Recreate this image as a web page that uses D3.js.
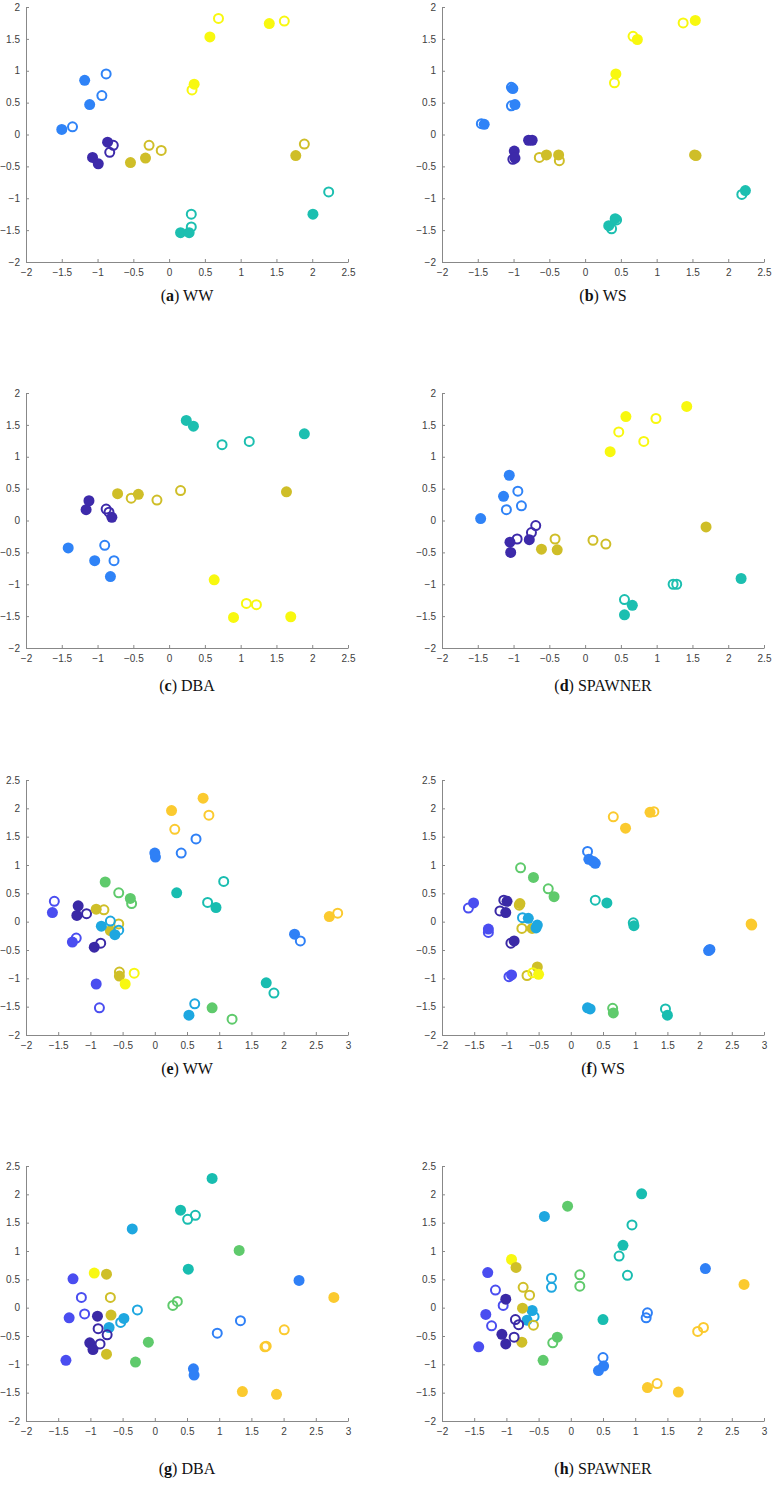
<!DOCTYPE html>
<html>
<head>
<meta charset="utf-8">
<script src="https://cdn.jsdelivr.net/npm/d3@7"></script>
<style>
  body { margin: 0; background: #fff; }
  svg { display: block; }
  .tick text { font-family: "Liberation Sans", Arial, sans-serif; font-size: 10px; fill: #404040; }
  .caption { font-family: "Liberation Serif", "DejaVu Serif", serif; font-size: 16px; fill: #111; }
</style>
</head>
<body>
<div id="chart"></div>
<script>
// class colours
const colors5 = ["#3d2aaa", "#2f83f7", "#1cbfb0", "#cfbe28", "#f8f80f"];
const colors9 = ["#3a29a6", "#4a4df0", "#2f80f6", "#1ea7e0", "#18bdb0", "#5fca6c", "#cfbf28", "#f8f811", "#fbca2f"];

// rows: [x, y, class, filled]
const panelA = [
  [0.69, 1.82, 4, 0], [0.57, 1.53, 4, 1], [1.40, 1.74, 4, 1], [1.61, 1.78, 4, 0], [0.32, 0.70, 4, 0], [0.35, 0.79, 4, 1],
  [-0.88, 0.95, 1, 0], [-1.18, 0.85, 1, 1], [-0.94, 0.61, 1, 0], [-1.11, 0.47, 1, 1], [-1.50, 0.08, 1, 1], [-1.35, 0.12, 1, 0],
  [-0.78, -0.17, 0, 0], [-0.86, -0.12, 0, 1], [-0.83, -0.28, 0, 0], [-1.07, -0.36, 0, 1], [-0.99, -0.46, 0, 1],
  [-0.54, -0.44, 3, 1], [-0.33, -0.37, 3, 1], [-0.28, -0.17, 3, 0], [-0.11, -0.25, 3, 0], [1.77, -0.33, 3, 1], [1.89, -0.15, 3, 0],
  [2.23, -0.90, 2, 0], [2.01, -1.25, 2, 1], [0.31, -1.25, 2, 0], [0.31, -1.45, 2, 0], [0.16, -1.54, 2, 1], [0.28, -1.54, 2, 1]
];
const panelB = [
  [1.37, 1.75, 4, 0], [1.54, 1.79, 4, 1], [0.67, 1.54, 4, 0], [0.73, 1.49, 4, 1], [0.43, 0.95, 4, 1], [0.41, 0.81, 4, 0],
  [-1.03, 0.74, 1, 0], [-1.01, 0.72, 1, 1], [-1.03, 0.45, 1, 0], [-0.98, 0.47, 1, 1], [-1.45, 0.17, 1, 0], [-1.41, 0.16, 1, 1],
  [-0.79, -0.09, 0, 1], [-0.74, -0.09, 0, 1], [-0.99, -0.26, 0, 1], [-1.01, -0.39, 0, 0], [-0.98, -0.37, 0, 1],
  [-0.64, -0.36, 3, 0], [-0.54, -0.32, 3, 1], [-0.36, -0.41, 3, 0], [-0.37, -0.32, 3, 1], [1.53, -0.32, 3, 1], [1.55, -0.33, 3, 1],
  [2.19, -0.94, 2, 0], [2.24, -0.88, 2, 1], [0.37, -1.48, 2, 0], [0.33, -1.43, 2, 1], [0.44, -1.34, 2, 0], [0.42, -1.32, 2, 1]
];
const panelC = [
  [0.24, 1.57, 2, 1], [0.34, 1.48, 2, 1], [1.89, 1.36, 2, 1], [0.74, 1.19, 2, 0], [1.12, 1.24, 2, 0],
  [-0.72, 0.42, 3, 1], [-0.53, 0.35, 3, 0], [-0.43, 0.41, 3, 1], [-0.17, 0.32, 3, 0], [0.16, 0.47, 3, 0], [1.64, 0.45, 3, 1],
  [-1.12, 0.31, 0, 1], [-1.16, 0.17, 0, 1], [-0.88, 0.18, 0, 0], [-0.84, 0.13, 0, 0], [-0.80, 0.05, 0, 1],
  [-1.41, -0.43, 1, 1], [-0.90, -0.39, 1, 0], [-1.04, -0.63, 1, 1], [-0.77, -0.63, 1, 0], [-0.82, -0.88, 1, 1],
  [0.63, -0.93, 4, 1], [1.08, -1.30, 4, 0], [1.22, -1.32, 4, 0], [0.90, -1.52, 4, 1], [1.70, -1.51, 4, 1]
];
const panelD = [
  [1.42, 1.79, 4, 1], [0.57, 1.63, 4, 1], [0.99, 1.60, 4, 0], [0.47, 1.39, 4, 0], [0.82, 1.24, 4, 0], [0.35, 1.08, 4, 1],
  [-1.06, 0.71, 1, 1], [-0.94, 0.46, 1, 0], [-1.14, 0.38, 1, 1], [-0.89, 0.23, 1, 0], [-1.10, 0.17, 1, 0], [-1.46, 0.03, 1, 1],
  [-0.69, -0.08, 0, 0], [-0.75, -0.19, 0, 0], [-0.95, -0.29, 0, 0], [-0.78, -0.30, 0, 1], [-1.05, -0.34, 0, 1], [-1.04, -0.50, 0, 1],
  [-0.42, -0.29, 3, 0], [-0.61, -0.45, 3, 1], [-0.39, -0.46, 3, 1], [0.11, -0.31, 3, 0], [0.29, -0.37, 3, 0], [1.69, -0.10, 3, 1],
  [2.18, -0.91, 2, 1], [1.23, -1.00, 2, 0], [1.28, -1.00, 2, 0], [0.55, -1.24, 2, 0], [0.66, -1.33, 2, 1], [0.55, -1.48, 2, 1]
];
const panelE = [
  [0.75, 2.18, 8, 1], [0.26, 1.96, 8, 1], [0.84, 1.88, 8, 0], [0.31, 1.63, 8, 0], [2.71, 0.09, 8, 1], [2.84, 0.15, 8, 0],
  [0.64, 1.46, 2, 0], [0.41, 1.21, 2, 0], [0.00, 1.21, 2, 1], [0.01, 1.14, 2, 1], [2.17, -0.22, 2, 1], [2.26, -0.34, 2, 0],
  [1.07, 0.71, 4, 0], [0.34, 0.51, 4, 1], [0.82, 0.34, 4, 0], [0.95, 0.25, 4, 1], [1.73, -1.08, 4, 1], [1.85, -1.26, 4, 0],
  [-0.77, 0.70, 5, 1], [-0.56, 0.51, 5, 0], [-0.36, 0.32, 5, 0], [-0.38, 0.41, 5, 1], [0.89, -1.52, 5, 1], [1.20, -1.72, 5, 0],
  [-1.56, 0.36, 1, 0], [-1.59, 0.16, 1, 1], [-1.22, -0.29, 1, 0], [-1.28, -0.36, 1, 1], [-0.91, -1.10, 1, 1], [-0.86, -1.52, 1, 0],
  [-1.19, 0.28, 0, 1], [-1.21, 0.11, 0, 1], [-1.06, 0.14, 0, 0], [-0.94, -0.45, 0, 1], [-0.84, -0.38, 0, 0],
  [-0.91, 0.22, 6, 1], [-0.79, 0.21, 6, 0], [-0.56, -0.04, 6, 0], [-0.69, -0.16, 6, 1], [-0.55, -0.96, 6, 1], [-0.55, -0.89, 6, 0],
  [-0.69, 0.01, 3, 0], [-0.83, -0.08, 3, 1], [-0.62, -0.23, 3, 1], [-0.56, -0.15, 3, 0], [0.62, -1.45, 3, 0], [0.53, -1.65, 3, 1],
  [-0.32, -0.91, 7, 0], [-0.46, -1.10, 7, 1]
];
const panelF = [
  [0.66, 1.85, 8, 0], [0.85, 1.65, 8, 1], [1.23, 1.93, 8, 1], [1.29, 1.94, 8, 0], [2.80, -0.04, 8, 1], [2.81, -0.06, 8, 1],
  [0.26, 1.24, 2, 0], [0.28, 1.10, 2, 1], [0.35, 1.06, 2, 1], [0.38, 1.03, 2, 1], [2.14, -0.51, 2, 1], [2.16, -0.49, 2, 1],
  [-0.78, 0.95, 5, 0], [-0.58, 0.78, 5, 1], [-0.35, 0.58, 5, 0], [-0.26, 0.44, 5, 1], [0.65, -1.53, 5, 0], [0.66, -1.61, 5, 1],
  [0.38, 0.38, 4, 0], [0.56, 0.33, 4, 1], [0.97, -0.02, 4, 0], [0.98, -0.07, 4, 1], [1.47, -1.54, 4, 0], [1.50, -1.65, 4, 1],
  [-1.59, 0.24, 1, 0], [-1.51, 0.33, 1, 1], [-1.28, -0.19, 1, 0], [-1.28, -0.13, 1, 1], [-0.96, -0.97, 1, 0], [-0.92, -0.94, 1, 1],
  [-1.04, 0.38, 0, 0], [-0.99, 0.36, 0, 1], [-1.10, 0.19, 0, 0], [-1.01, 0.16, 0, 1], [-0.93, -0.38, 0, 0], [-0.88, -0.34, 0, 1],
  [-0.80, 0.29, 6, 0], [-0.79, 0.32, 6, 1], [-0.76, -0.12, 6, 0], [-0.60, -0.12, 6, 1], [-0.68, -0.95, 6, 0], [-0.52, -0.80, 6, 1],
  [-0.75, 0.07, 3, 0], [-0.66, 0.06, 3, 1], [-0.54, -0.11, 3, 1], [-0.52, -0.06, 3, 1], [0.26, -1.52, 3, 1], [0.30, -1.54, 3, 1],
  [-0.59, -0.90, 7, 0], [-0.50, -0.93, 7, 1]
];
const panelG = [
  [0.89, 2.28, 4, 1], [0.40, 1.72, 4, 1], [0.51, 1.56, 4, 0], [0.63, 1.63, 4, 0], [0.52, 0.68, 4, 1],
  [-0.35, 1.39, 3, 1], [-0.27, -0.04, 3, 0], [-0.53, -0.26, 3, 0], [-0.48, -0.19, 3, 1], [-0.71, -0.35, 3, 1],
  [1.31, 1.01, 5, 1], [0.35, 0.11, 5, 0], [0.28, 0.04, 5, 0], [-0.10, -0.61, 5, 1], [-0.30, -0.96, 5, 1],
  [2.24, 0.48, 2, 1], [1.33, -0.23, 2, 0], [0.97, -0.45, 2, 0], [0.60, -1.08, 2, 1], [0.61, -1.19, 2, 1],
  [2.78, 0.18, 8, 1], [2.01, -0.39, 8, 0], [1.71, -0.69, 8, 0], [1.73, -0.68, 8, 0], [1.36, -1.48, 8, 1], [1.89, -1.53, 8, 1],
  [-0.94, 0.61, 7, 1],
  [-0.75, 0.59, 6, 1], [-0.69, 0.18, 6, 0], [-0.68, -0.13, 6, 1], [-0.75, -0.82, 6, 1],
  [-1.27, 0.51, 1, 1], [-1.14, 0.18, 1, 0], [-1.09, -0.11, 1, 0], [-1.33, -0.18, 1, 1], [-1.38, -0.93, 1, 1],
  [-0.89, -0.15, 0, 1], [-0.88, -0.37, 0, 0], [-0.74, -0.48, 0, 0], [-1.01, -0.62, 0, 1], [-0.96, -0.74, 0, 1], [-0.85, -0.64, 0, 0]
];
const panelH = [
  [1.10, 2.01, 4, 1], [0.95, 1.46, 4, 0], [0.81, 1.10, 4, 1], [0.75, 0.91, 4, 0], [0.88, 0.57, 4, 0], [0.50, -0.21, 4, 1],
  [-0.05, 1.79, 5, 1], [0.14, 0.58, 5, 0], [0.14, 0.38, 5, 0], [-0.28, -0.62, 5, 0], [-0.21, -0.52, 5, 1], [-0.43, -0.93, 5, 1],
  [-0.41, 1.61, 3, 1], [-0.30, 0.52, 3, 0], [-0.30, 0.36, 3, 0], [-0.57, -0.16, 3, 0], [-0.60, -0.05, 3, 1], [-0.68, -0.22, 3, 1],
  [2.09, 0.69, 2, 1], [1.19, -0.09, 2, 0], [1.17, -0.18, 2, 0], [0.50, -0.88, 2, 0], [0.51, -1.03, 2, 1], [0.43, -1.11, 2, 1],
  [2.69, 0.41, 8, 1], [2.06, -0.35, 8, 0], [1.97, -0.42, 8, 0], [1.34, -1.34, 8, 0], [1.19, -1.41, 8, 1], [1.67, -1.49, 8, 1],
  [-0.92, 0.85, 7, 1],
  [-0.85, 0.71, 6, 1], [-0.74, 0.36, 6, 0], [-0.64, 0.22, 6, 0], [-0.75, -0.01, 6, 1], [-0.58, -0.31, 6, 0], [-0.76, -0.61, 6, 1],
  [-1.29, 0.62, 1, 1], [-1.17, 0.31, 1, 0], [-1.05, 0.04, 1, 0], [-1.32, -0.12, 1, 1], [-1.23, -0.32, 1, 0], [-1.43, -0.69, 1, 1],
  [-1.01, 0.15, 0, 1], [-0.86, -0.21, 0, 0], [-0.81, -0.30, 0, 0], [-0.88, -0.52, 0, 0], [-1.07, -0.47, 0, 1], [-1.01, -0.64, 0, 1]
];

const xTicksTop = [-2, -1.5, -1, -0.5, 0, 0.5, 1, 1.5, 2, 2.5];
const yTicksTop = [-2, -1.5, -1, -0.5, 0, 0.5, 1, 1.5, 2];
const xTicksBottom = [-2, -1.5, -1, -0.5, 0, 0.5, 1, 1.5, 2, 2.5, 3];
const yTicksBottom = [-2, -1.5, -1, -0.5, 0, 0.5, 1, 1.5, 2, 2.5];

const captionLetters = ["a", "b", "c", "d", "e", "f", "g", "h"];
const captionNames = ["WW", "WS", "DBA", "SPAWNER", "WW", "WS", "DBA", "SPAWNER"];

const width = 772, height = 1499;
const svg = d3.select("#chart").append("svg")
  .attr("width", width)
  .attr("height", height);

const cols = [26, 442];          // left edge of plot area
const plotW = 322, plotH = 255;
const rows = [7, 393, 780, 1166]; // top edge of plot area
const captionY = [297, 687, 1070, 1470];

const panels = [
  { data: panelA, colors: colors5, xd: [-2, 2.5], yd: [-2, 2], xt: xTicksTop, yt: yTicksTop },
  { data: panelB, colors: colors5, xd: [-2, 2.5], yd: [-2, 2], xt: xTicksTop, yt: yTicksTop },
  { data: panelC, colors: colors5, xd: [-2, 2.5], yd: [-2, 2], xt: xTicksTop, yt: yTicksTop },
  { data: panelD, colors: colors5, xd: [-2, 2.5], yd: [-2, 2], xt: xTicksTop, yt: yTicksTop },
  { data: panelE, colors: colors9, xd: [-2, 3], yd: [-2, 2.5], xt: xTicksBottom, yt: yTicksBottom },
  { data: panelF, colors: colors9, xd: [-2, 3], yd: [-2, 2.5], xt: xTicksBottom, yt: yTicksBottom },
  { data: panelG, colors: colors9, xd: [-2, 3], yd: [-2, 2.5], xt: xTicksBottom, yt: yTicksBottom },
  { data: panelH, colors: colors9, xd: [-2, 3], yd: [-2, 2.5], xt: xTicksBottom, yt: yTicksBottom }
];

const fmt = d => d3.format("")(d);

panels.forEach((p, i) => {
  const left = cols[i % 2], top = rows[Math.floor(i / 2)];
  const g = svg.append("g").attr("transform", "translate(" + left + "," + top + ")");

  const x = d3.scaleLinear().domain(p.xd).range([0, plotW]);
  const y = d3.scaleLinear().domain(p.yd).range([plotH, 0]);

  // MATLAB style: ticks pointing inwards, no box
  const xAxis = g.append("g")
    .attr("transform", "translate(0," + plotH + ")")
    .call(d3.axisBottom(x).tickValues(p.xt).tickFormat(fmt).tickSizeInner(-3).tickSizeOuter(0).tickPadding(7));
  const yAxis = g.append("g")
    .call(d3.axisLeft(y).tickValues(p.yt).tickFormat(fmt).tickSizeInner(-3).tickSizeOuter(0).tickPadding(6));
  [xAxis, yAxis].forEach(a => {
    a.select(".domain").attr("stroke", "#888");
    a.selectAll(".tick line").attr("stroke", "#888");
  });

  g.selectAll("circle")
    .data(p.data)
    .enter().append("circle")
    .attr("cx", d => x(d[0]))
    .attr("cy", d => y(d[1]))
    .attr("r", d => d[3] ? 5.5 : 4.5)
    .attr("fill", d => d[3] ? p.colors[d[2]] : "none")
    .attr("stroke", d => d[3] ? "none" : p.colors[d[2]])
    .attr("stroke-width", 2);

  const cap = svg.append("text")
    .attr("class", "caption")
    .attr("x", left + plotW / 2)
    .attr("y", captionY[Math.floor(i / 2)])
    .attr("text-anchor", "middle")
    .attr("dominant-baseline", "middle");
  cap.append("tspan").text("(");
  cap.append("tspan").attr("font-weight", "bold").text(captionLetters[i]);
  cap.append("tspan").text(") " + captionNames[i]);
});
</script>
</body>
</html>
